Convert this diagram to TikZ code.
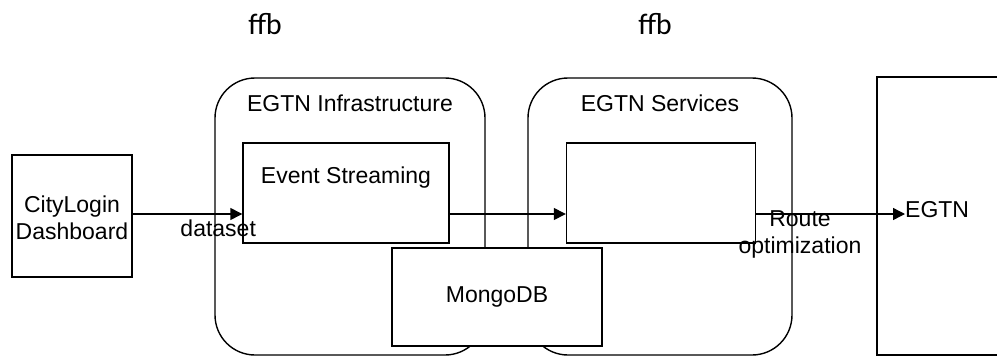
\documentclass[tikz,border=0pt]{standalone}
\usepackage{fontspec}
\setmainfont{Liberation Sans}
\newfontfamily\calib{Carlito}
\usetikzlibrary{arrows.meta}
\begin{document}
\begin{tikzpicture}[x=1pt,y=-1pt,
  box/.style={draw=black,line width=1.4pt,fill=white},
  rbox/.style={draw=black,line width=1.4pt,fill=white,rounded corners=40pt},
  lbl/.style={font=\fontsize{23}{27}\selectfont,align=center,inner sep=0pt},
  conn/.style={draw=black,line width=1.4pt,-{Triangle[length=12pt,width=12pt]}},
  hdr/.style={font=\calib\fontsize{30}{34}\selectfont,inner sep=0pt}]
\useasboundingbox (0,0) rectangle (997,356);
\node[hdr] (h1) at (265,24) {ffb};
\node[hdr] (h2) at (655,24) {ffb};
% containers
\draw[rbox] (215,78) rectangle (485,355);
\node[lbl] (infra) at (350,103) {EGTN Infrastructure};
\draw[rbox] (528,78) rectangle (792,355);
\node[lbl] (serv) at (660,103) {EGTN Services};
\draw[box] (877,77) rectangle (1010,355);
\node[lbl,anchor=west] (egtn) at (905,210) {EGTN};
% inner nodes
\node[box,minimum width=120pt,minimum height=122pt] (city) at (72,216) {};
\node[lbl] at (city.center) [yshift=-2pt] {CityLogin\\Dashboard};
\node[box,minimum width=206pt,minimum height=100pt] (es) at (346,193) {};
\node[lbl,anchor=north] at (es.north) [yshift=-24pt] {Event Streaming};
\node[box,minimum width=189pt,minimum height=100pt] (ro) at (661,193) {};
\node[lbl] at (800,234) {Route\\optimization};
\node[box,minimum width=210pt,minimum height=98pt] (mongo) at (497,297) {};
\node[lbl] at (mongo) {MongoDB};
% connectors
\draw[conn] (city.east |- 0,214) -- node[lbl,below=5pt,pos=0.78] {dataset} (es.west |- 0,214);
\draw[conn] (es.east |- 0,214) -- (ro.west |- 0,214);
\draw[conn] (ro.east |- 0,214) -- (egtn.west |- 0,214);
\end{tikzpicture}
\end{document}
